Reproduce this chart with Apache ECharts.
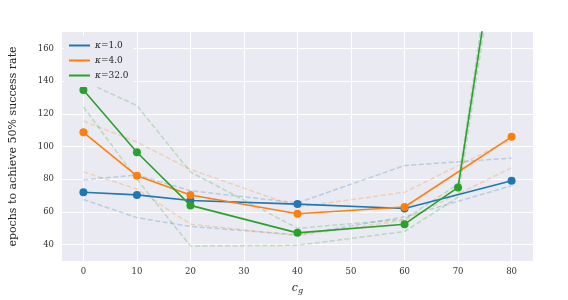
<!DOCTYPE html>
<html>
<head>
<meta charset="utf-8">
<script src="https://cdn.jsdelivr.net/npm/echarts@6/dist/echarts.min.js"></script>
<style>html,body{margin:0;padding:0;background:#fff}#c{width:568px;height:300px}</style>
</head>
<body>
<div id="c"></div>
<script>
// x positions (c_g)
var xBase = [0, 10, 20, 40, 60, 80];
var xGreen = [0, 10, 20, 40, 60, 70, 80];
// kappa = 1.0
var k1 = [72, 70.4, 67, 64.8, 62.1, 79];
var k1Upper = [79.6, 82.6, 73, 65.5, 88.4, 92.9];
var k1Lower = [67.6, 56.5, 51.1, 46, 57, 76];
// kappa = 4.0
var k4 = [108.7, 82.1, 70.4, 58.9, 63, 105.9];
var k4Upper = [115.6, 102.7, 86, 63, 72, 104.5];
var k4Lower = [84.5, 74, 52.5, 45.5, 55, 87];
// kappa = 32.0
var k32 = [134.5, 96.5, 64, 47.2, 52.5, 75, 288];
var k32Upper = [140.1, 125, 84.4, 50, 55.5, 77, 300];
var k32Lower = [124.2, 80, 39.2, 39.6, 48, 69, 280];
// tick labels
var xTicks = [0, 10, 20, 30, 40, 50, 60, 70, 80];
var yTicks = [40, 60, 80, 100, 120, 140, 160];
var names = ['κ=1.0', 'κ=4.0', 'κ=32.0'];

var FONT = 'DejaVu Serif';
var colors = ['#1f77b4', '#ff7f0e', '#2ca02c'];

function pairs(xs, ys) { return xs.map(function (x, i) { return [x, ys[i]]; }); }
function dashed(xs, ys, color) {
  return {
    type: 'line', data: pairs(xs, ys), symbol: 'none', silent: true,
    lineStyle: { color: color, width: 1.5, type: [5, 2.5], opacity: 0.25 },
    z: 3, animation: false
  };
}
function solid(name, xs, ys, color) {
  return {
    name: name, type: 'line', data: pairs(xs, ys), symbol: 'circle', symbolSize: 8,
    itemStyle: { color: color, borderWidth: 0 }, lineStyle: { color: color, width: 1.6 },
    z: 4, animation: false
  };
}

var gridLines = yTicks.map(function (v) { return { yAxis: v }; })
  .concat(xTicks.map(function (v) { return { xAxis: v }; }));

var series = [
  {
    type: 'line', data: [], silent: true, z: 1, animation: false,
    markLine: {
      silent: true, z: 1, symbol: ['none', 'none'], label: { show: false }, animation: false,
      lineStyle: { color: '#ffffff', width: 1, type: 'solid' },
      emphasis: { disabled: true },
      data: gridLines
    }
  },
  dashed(xBase, k1Upper, colors[0]), dashed(xBase, k1Lower, colors[0]), solid(names[0], xBase, k1, colors[0]),
  dashed(xBase, k4Upper, colors[1]), dashed(xBase, k4Lower, colors[1]), solid(names[1], xBase, k4, colors[1]),
  dashed(xGreen, k32Upper, colors[2]), dashed(xGreen, k32Lower, colors[2]), solid(names[2], xGreen, k32, colors[2])
];

var chart = echarts.init(document.getElementById('c'), null, { renderer: 'canvas' });
chart.setOption({
  animation: false,
  backgroundColor: '#ffffff',
  grid: { left: 62, right: 35, top: 32, bottom: 33, show: true, backgroundColor: '#EAEAF2', borderWidth: 0 },
  legend: {
    data: names, orient: 'vertical', left: 64, top: 36, padding: [2, 5, 4, 5], z: 10,
    backgroundColor: '#EAEAF2', borderWidth: 0,
    icon: 'rect', itemWidth: 21, itemHeight: 2, itemGap: 0,
    textStyle: { fontFamily: FONT, fontSize: 9, color: '#262626', lineHeight: 15,
      rich: { i: { fontFamily: FONT, fontStyle: 'italic', fontSize: 9, color: '#262626' } } },
    formatter: function (n) { return '{i|κ}' + n.slice(1); },
    selectedMode: false
  },
  xAxis: {
    type: 'value', min: -4, max: 84, interval: 2,
    axisLine: { show: false }, axisTick: { show: false }, splitLine: { show: false },
    axisLabel: { fontFamily: FONT, fontSize: 8.5, color: '#333', margin: 6,
      formatter: function (v) { return xTicks.indexOf(v) >= 0 ? String(v) : ''; } },
    name: '{c|c}{g|g}', nameLocation: 'middle', nameGap: 20,
    nameTextStyle: { fontFamily: FONT, fontSize: 11, color: '#262626',
      rich: { c: { fontFamily: FONT, fontStyle: 'italic', fontSize: 11, color: '#262626' },
              g: { fontFamily: FONT, fontStyle: 'italic', fontSize: 8, color: '#262626', padding: [6, 0, 0, 0] } } }
  },
  yAxis: {
    type: 'value', min: 30, max: 170, interval: 10,
    axisLine: { show: false }, axisTick: { show: false }, splitLine: { show: false },
    axisLabel: { fontFamily: FONT, fontSize: 8.5, color: '#333', margin: 8,
      formatter: function (v) { return yTicks.indexOf(v) >= 0 ? String(v) : ''; } },
    name: 'epochs to achieve 50% success rate', nameLocation: 'middle', nameGap: 43,
    nameTextStyle: { fontFamily: FONT, fontSize: 11, color: '#262626' }
  },
  series: series
});
</script>
</body>
</html>
